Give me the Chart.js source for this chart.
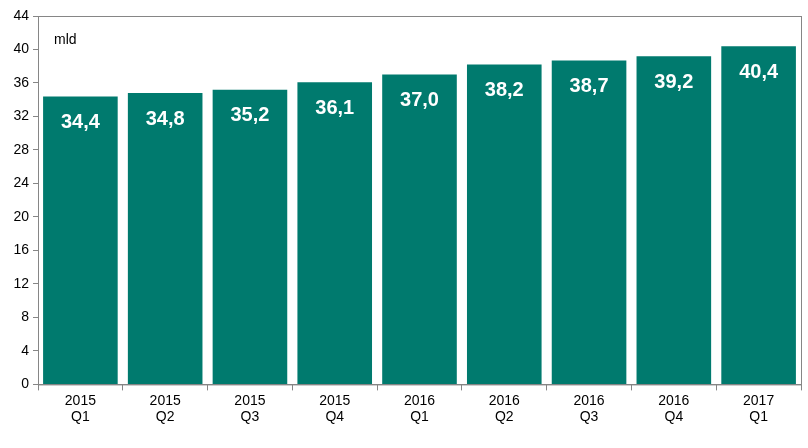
<!DOCTYPE html>
<html>
<head>
<meta charset="utf-8">
<script src="https://cdn.jsdelivr.net/npm/chart.js@4/dist/chart.umd.min.js"></script>
<style>
  html, body { margin: 0; padding: 0; background: #fff; }
  #wrap { width: 808px; height: 448px; }
</style>
</head>
<body>
<div id="wrap"><canvas id="c"></canvas></div>
<script>
const years = ['2015', '2015', '2015', '2015', '2016', '2016', '2016', '2016', '2017'];
const quarters = ['Q1', 'Q2', 'Q3', 'Q4', 'Q1', 'Q2', 'Q3', 'Q4', 'Q1'];
const values = [34.4, 34.8, 35.2, 36.1, 37.0, 38.2, 38.7, 39.2, 40.4];
const unitLabel = 'mld';

const labels = years.map((y, i) => [y, quarters[i]]);

// white value labels inside the top of each bar + unit text
const barLabels = {
  id: 'barLabels',
  afterDatasetsDraw(chart) {
    const ctx = chart.ctx;
    const meta = chart.getDatasetMeta(0);
    ctx.save();
    ctx.fillStyle = '#fff';
    ctx.font = 'bold 20px "Liberation Sans", Arial, sans-serif';
    ctx.textAlign = 'center';
    ctx.textBaseline = 'middle';
    meta.data.forEach((bar, i) => {
      ctx.fillText(values[i].toFixed(1).replace('.', ','), bar.x, bar.y + 26);
    });
    ctx.fillStyle = '#000';
    ctx.font = '14px "Liberation Sans", Arial, sans-serif';
    ctx.textAlign = 'left';
    ctx.fillText(unitLabel, chart.chartArea.left + 16, chart.chartArea.top + 24);
    // frame around plot area
    const a = chart.chartArea;
    ctx.strokeStyle = '#868686';
    ctx.lineWidth = 1;
    ctx.strokeRect(a.left + 0.5, a.top + 0.5, a.right - a.left, a.bottom - a.top);
    ctx.restore();
  }
};

new Chart(document.getElementById('c'), {
  type: 'bar',
  data: {
    labels,
    datasets: [{
      data: values,
      backgroundColor: '#007A6E',
      barPercentage: 0.88,
      categoryPercentage: 1
    }]
  },
  options: {
    responsive: true,
    maintainAspectRatio: false,
    animation: false,
    layout: { padding: { top: 16, right: 7, left: 0, bottom: 20 } },
    plugins: { legend: { display: false }, tooltip: { enabled: false } },
    scales: {
      x: {
        grid: { display: true, drawOnChartArea: false, offset: true, tickLength: 6, color: '#868686' },
        border: { color: '#868686' },
        ticks: { color: '#000', font: { size: 14, family: '"Liberation Sans", Arial' }, padding: 2 }
      },
      y: {
        min: 0, max: 44,
        afterFit(s) { s.width = 38; },
        grid: { display: true, drawOnChartArea: false, tickLength: 5, color: '#868686' },
        border: { color: '#868686' },
        ticks: { stepSize: 4, color: '#000', font: { size: 14, family: '"Liberation Sans", Arial' }, padding: 4 }
      }
    }
  },
  plugins: [barLabels]
});
</script>
</body>
</html>
